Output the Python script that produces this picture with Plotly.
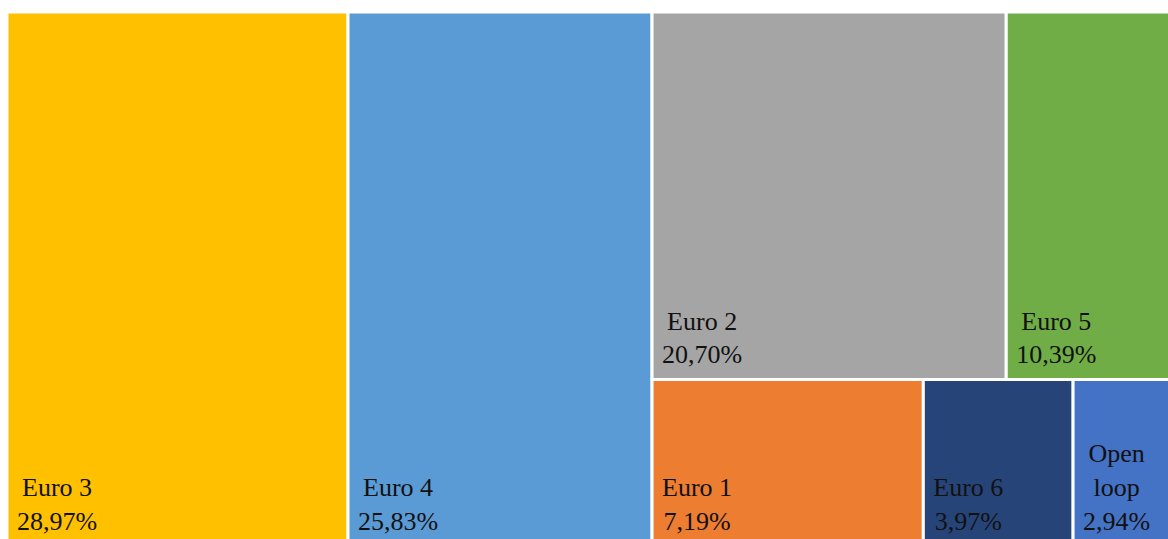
import plotly.graph_objects as go

# Share of the fleet by emission standard (%)
categories = ["Euro 3", "Euro 4", "Euro 2", "Euro 5", "Euro 1", "Euro 6", "Open loop"]
shares = [28.97, 25.83, 20.70, 10.39, 7.19, 3.97, 2.94]
tile_lines = [["Euro 3"], ["Euro 4"], ["Euro 2"], ["Euro 5"], ["Euro 1"], ["Euro 6"], ["Open", "loop"]]
colors = ["#FFC000", "#5B9BD5", "#A5A5A5", "#70AD47", "#ED7D31", "#264478", "#4472C4"]

FONT_SIZE = 26
# approximate advance widths (em) of the serif face, used to centre lines in a label block
ADV = {"E": 0.611, "u": 0.5, "r": 0.333, "o": 0.5, " ": 0.25, ",": 0.25, "%": 0.833,
       "O": 0.722, "p": 0.5, "e": 0.444, "n": 0.5, "l": 0.278}


def text_width(s):
    return sum(ADV.get(c, 0.5) for c in s) * FONT_SIZE


def indent(px):
    # a non-breaking space whose font size gives the requested width
    return f'<span style="font-size:{max(px, 0.5) * 4:.1f}px">\u00a0</span>'


def label_block(lines, value):
    pct = f"{value:.2f}".replace(".", ",") + "%"
    all_lines = lines + [pct]
    widest = max(text_width(s) for s in all_lines)
    out = []
    for i, s in enumerate(all_lines):
        row = indent(7 + (widest - text_width(s)) / 2) + s
        if i == len(all_lines) - 1:
            # tall trailing blank lifts the block off the tile's bottom edge
            row += '<span style="font-size:62px">\u00a0</span>'
        out.append(row)
    return "<br>".join(out)


labels_text = [label_block(l, v) for l, v in zip(tile_lines, shares)]

fig = go.Figure(
    go.Treemap(
        labels=categories,
        parents=[""] * len(categories),
        values=shares,
        text=labels_text,
        texttemplate="%{text}",
        textposition="bottom left",
        textfont=dict(family="Liberation Serif", size=FONT_SIZE, color="#111111"),
        marker=dict(colors=colors, line=dict(color="white", width=3),
                    pad=dict(t=0, l=0, r=0, b=0)),
        tiling=dict(packing="squarify", squarifyratio=1, pad=0),
        pathbar=dict(visible=False),
        sort=True,
        hoverinfo="skip",
    )
)

fig.update_layout(
    width=1184,
    height=546,
    margin=dict(l=7, r=0, t=12, b=0),
    paper_bgcolor="white",
    showlegend=False,
)

fig.write_html(
    "out.html",
    post_script="document.documentElement.style.overflow='hidden';document.body.style.overflow='hidden';document.body.style.margin='0';",
)
